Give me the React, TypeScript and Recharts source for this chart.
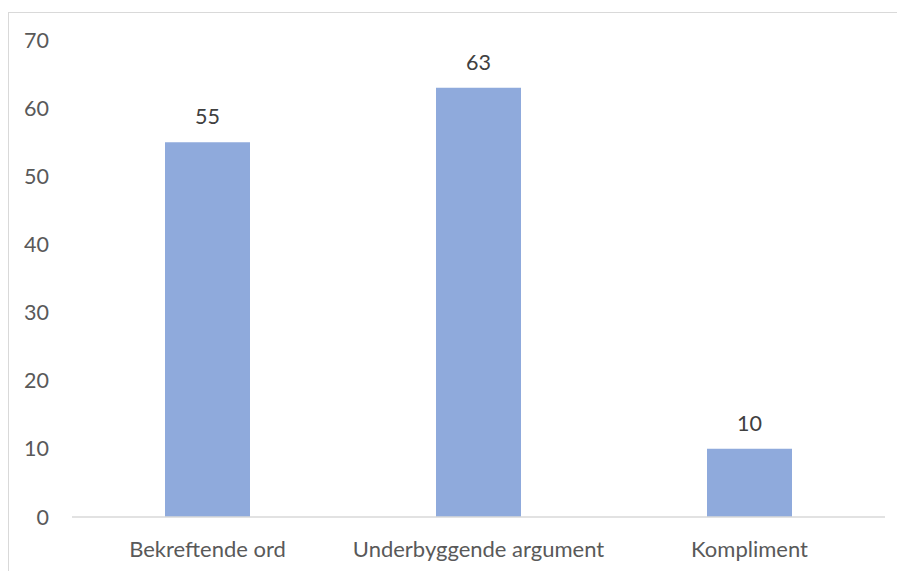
import { BarChart, Bar, XAxis, YAxis, LabelList } from "recharts";

const categories = ["Bekreftende ord", "Underbyggende argument", "Kompliment"];
const counts = [55, 63, 10];
const yTicks = [0, 10, 20, 30, 40, 50, 60, 70];

const data = categories.map((name, i) => ({ name, value: counts[i] }));

const FONT = "Lato, 'Open Sans', sans-serif";

export default function App() {
  return (
    <div style={{ position: "relative", width: 897, height: 563, fontFamily: FONT }}>
      {/* frame of the chart area, only its top and left edges are in view */}
      <div
        style={{
          position: "absolute",
          left: 0,
          top: 4,
          right: 0,
          bottom: 0,
          borderLeft: "1px solid #d9d9d9",
          borderTop: "1px solid #d9d9d9",
        }}
      />
      <div style={{ position: "absolute", left: 0, top: 0 }}>
        <BarChart
          width={897}
          height={563}
          data={data}
          margin={{ top: 32, right: 20, left: 4, bottom: 0 }}
        >
          <XAxis
            dataKey="name"
            height={54}
            tickLine={false}
            tickSize={0}
            tickMargin={24}
            axisLine={{ stroke: "#d9d9d9", strokeWidth: 1.5 }}
            tick={{ fill: "#595959", fontSize: 22, fontFamily: FONT }}
            interval={0}
          />
          <YAxis
            width={60}
            domain={[0, 70]}
            ticks={yTicks}
            axisLine={false}
            tickLine={false}
            tickSize={0}
            tickMargin={23}
            tick={{ fill: "#595959", fontSize: 21.5, fontFamily: FONT }}
          />
          <Bar dataKey="value" fill="#8faadc" barSize={85} isAnimationActive={false}>
            <LabelList
              dataKey="value"
              position="top"
              offset={18}
              fill="#404040"
              fontSize={21.5}
              fontFamily={FONT}
            />
          </Bar>
        </BarChart>
      </div>
    </div>
  );
}
